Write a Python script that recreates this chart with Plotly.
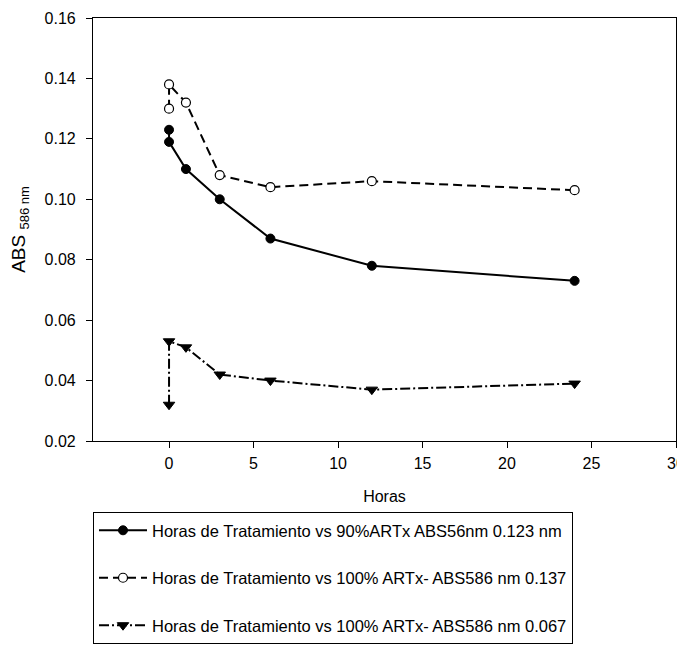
import plotly.graph_objects as go

# Data
s1_x = [0, 0, 1, 3, 6, 12, 24]
s1_y = [0.123, 0.119, 0.110, 0.100, 0.087, 0.078, 0.073]
s1_name = "Horas de Tratamiento vs 90%ARTx ABS56nm 0.123 nm"

s2_x = [0, 0, 1, 3, 6, 12, 24]
s2_y = [0.130, 0.138, 0.132, 0.108, 0.104, 0.106, 0.103]
s2_name = "Horas de Tratamiento vs 100% ARTx- ABS586 nm 0.137"

s3_x = [0, 0, 1, 3, 6, 12, 24]
s3_y = [0.032, 0.053, 0.051, 0.042, 0.040, 0.037, 0.039]
s3_name = "Horas de Tratamiento vs 100% ARTx- ABS586 nm 0.067"

x_ticks = [0, 5, 10, 15, 20, 25, 30]
y_ticks = [0.02, 0.04, 0.06, 0.08, 0.10, 0.12, 0.14, 0.16]

FONT = "Arial, Liberation Sans, sans-serif"

fig = go.Figure()
fig.add_trace(go.Scatter(
    x=s1_x, y=s1_y, name=s1_name, mode="lines+markers", legendgroup="a",
    line=dict(color="black", width=2, dash="solid"),
    marker=dict(symbol="circle", size=9, color="black", line=dict(color="black", width=1)),
))
fig.add_trace(go.Scatter(
    x=s2_x, y=s2_y, name=s2_name, mode="lines+markers", legendgroup="b",
    line=dict(color="black", width=2, dash="9px,5px"),
    marker=dict(symbol="circle", size=9, color="white", line=dict(color="black", width=1.2)),
))
fig.add_trace(go.Scatter(
    x=s3_x, y=s3_y, name=s3_name, mode="lines+markers", legendgroup="c",
    line=dict(color="black", width=2, dash="10px,3px,2px,3px"),
    marker=dict(symbol="triangle-down", size=10, color="black", line=dict(color="black", width=1)),
))

fig.update_layout(
    width=685, height=648,
    margin=dict(l=85, r=17, t=10, b=215, autoexpand=False),
    paper_bgcolor="white", plot_bgcolor="white",
    font=dict(family=FONT, size=16, color="black"),
    showlegend=True,
    legend=dict(
        x=0, y=-0.168, xanchor="left", yanchor="top",
        bordercolor="black", borderwidth=1,
        font=dict(family=FONT, size=16.5, color="black"),
        traceorder="grouped", tracegroupgap=23,
        itemwidth=48,
        bgcolor="white",
    ),
)
fig.update_xaxes(
    range=[-4.5, 30], tickvals=x_ticks, ticktext=[str(v) for v in x_ticks],
    showline=True, linecolor="black", linewidth=1.2, mirror=True,
    ticks="outside", ticklen=6, tickcolor="black", showgrid=False, zeroline=False,
    ticklabelstandoff=2, automargin=False,
    title=dict(text="Horas", font=dict(family=FONT, size=16), standoff=19),
)
fig.update_yaxes(
    range=[0.02, 0.16], tickvals=y_ticks, ticktext=["%.2f" % v for v in y_ticks],
    showline=True, linecolor="black", linewidth=1.2, mirror=True,
    ticks="outside", ticklen=6, tickcolor="black", showgrid=False, zeroline=False,
    ticklabelstandoff=7, automargin=False,
    title=dict(text="ABS <sub><span style='font-size:13px'>586 nm</span></sub>",
               font=dict(family=FONT, size=19), standoff=13),
)

fig.write_html("out.html")
